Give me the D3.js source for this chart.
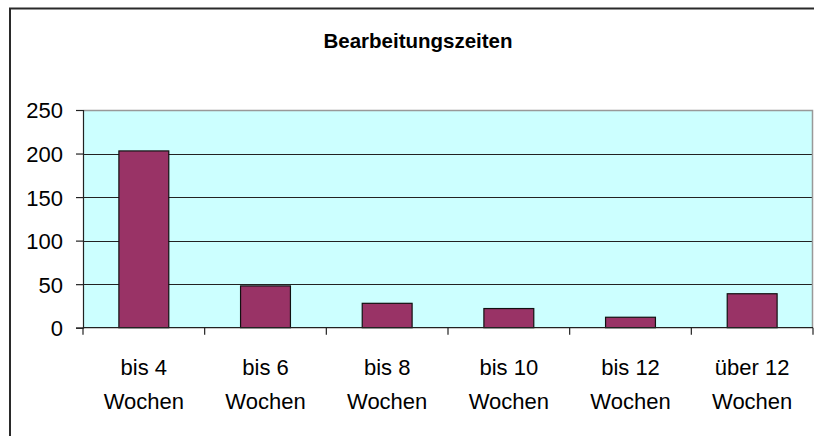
<!DOCTYPE html>
<html>
<head>
<meta charset="utf-8">
<script src="https://cdn.jsdelivr.net/npm/d3@7"></script>
<style>
  html, body { margin: 0; padding: 0; background: #fff; }
  svg { display: block; font-family: "Liberation Sans", Arial, sans-serif; }
</style>
</head>
<body>
<svg id="chart" width="814" height="436"></svg>
<script>
const title = "Bearbeitungszeiten";
const categories = ["bis 4 Wochen", "bis 6 Wochen", "bis 8 Wochen", "bis 10 Wochen", "bis 12 Wochen", "über 12 Wochen"];
const categoryLines = [["bis 4", "Wochen"], ["bis 6", "Wochen"], ["bis 8", "Wochen"], ["bis 10", "Wochen"], ["bis 12", "Wochen"], ["über 12", "Wochen"]];
const values = [203, 48, 28, 22, 12, 39];
const yTicks = [0, 50, 100, 150, 200, 250];

(function () {
const svg = d3.select("#chart");
const mLeft = 83, mRight = 813, mTop = 110, mBottom = 327.7;

// outer frame
svg.append("rect")
  .attr("x", 10).attr("y", 8.5).attr("width", 900).attr("height", 600)
  .attr("fill", "none").attr("stroke", "#2a2a2a").attr("stroke-width", 2);

svg.append("text")
  .attr("x", 418).attr("y", 47.5)
  .attr("text-anchor", "middle")
  .attr("font-size", 20.5).attr("font-weight", "bold")
  .attr("fill", "#000")
  .text(title);

const x = d3.scaleBand().domain(categories).range([mLeft, mRight])
  .paddingInner(0.59).paddingOuter(0.295);
const y = d3.scaleLinear().domain([0, 250]).range([mBottom, mTop]);

// plot area
svg.append("rect")
  .attr("x", mLeft).attr("y", y(250))
  .attr("width", mRight - mLeft).attr("height", y(0) - y(250))
  .attr("fill", "#CCFFFF");

// gridlines
svg.append("g").selectAll("line")
  .data(yTicks.filter(d => d > 0 && d < 250))
  .join("line")
  .attr("x1", mLeft).attr("x2", mRight)
  .attr("y1", d => Math.round(y(d)) + 0.5).attr("y2", d => Math.round(y(d)) + 0.5)
  .attr("stroke", "#222").attr("stroke-width", 1);

// plot border top/right
svg.append("path")
  .attr("d", `M${mLeft},${Math.round(y(250)) + 0.5}H${mRight - 0.5}V${mBottom}`)
  .attr("fill", "none").attr("stroke", "#999").attr("stroke-width", 1.5);

// bars
svg.append("g").selectAll("rect")
  .data(values)
  .join("rect")
  .attr("x", (d, i) => x(categories[i]))
  .attr("y", d => y(d))
  .attr("width", x.bandwidth())
  .attr("height", d => y(0) - y(d))
  .attr("fill", "#993366")
  .attr("stroke", "#111").attr("stroke-width", 1.2);

// y axis
const yAxis = svg.append("g")
  .attr("transform", `translate(${mLeft},0)`)
  .call(d3.axisLeft(y).tickValues(yTicks).tickSize(7).tickPadding(13));
yAxis.select(".domain").attr("stroke", "#222").attr("stroke-width", 1.2);
yAxis.selectAll(".tick line").attr("stroke", "#222").attr("stroke-width", 1.2);
yAxis.selectAll(".tick text")
  .attr("font-size", 22).attr("fill", "#000")
  .attr("font-family", "'Liberation Sans', Arial, sans-serif")
  .attr("dy", "0.36em");

// x axis
const step = x.step();
const boundaries = d3.range(categories.length + 1).map(i => mLeft + i * step);
const xAxis = svg.append("g").attr("transform", `translate(0,${mBottom})`);
xAxis.append("line")
  .attr("x1", mLeft).attr("x2", mRight).attr("y1", 0).attr("y2", 0)
  .attr("stroke", "#222").attr("stroke-width", 1.2);
xAxis.selectAll("line.tk")
  .data(boundaries)
  .join("line").attr("class", "tk")
  .attr("x1", d => d).attr("x2", d => d)
  .attr("y1", 0).attr("y2", 7)
  .attr("stroke", "#222").attr("stroke-width", 1.2);

const labels = svg.append("g").selectAll("text")
  .data(categories)
  .join("text")
  .attr("text-anchor", "middle")
  .attr("font-size", 22).attr("fill", "#000")
  .attr("transform", d => `translate(${x(d) + x.bandwidth() / 2},0)`);
labels.each(function(d, i) {
  const t = d3.select(this);
  categoryLines[i].forEach((line, j) => {
    t.append("tspan").attr("x", 0).attr("y", 374.5 + j * 34).text(line);
  });
});
})();
</script>
</body>
</html>
